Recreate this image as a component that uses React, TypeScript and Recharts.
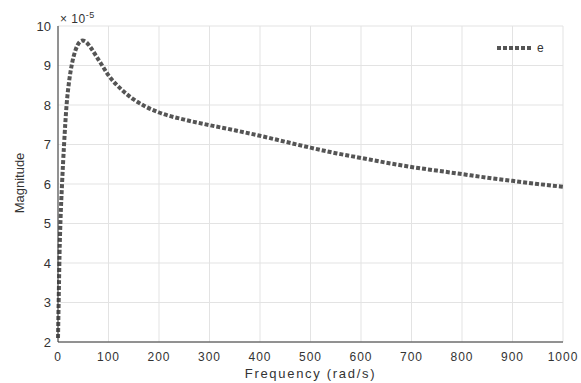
import React from "react";
import {
  LineChart, Line, XAxis, YAxis, CartesianGrid,
} from "recharts";

// magnitude values are in units of 1e-5
const freq = [
  0, 1, 2, 3, 5, 8, 12, 17, 22, 27, 35, 42, 48, 55, 65, 75, 85, 100, 125, 150, 175,
  200, 250, 300, 350, 400, 450, 500, 550, 600, 650, 700, 750, 800, 850, 900, 950, 1000,
];
const magnitude = [
  2.1, 2.8, 3.5, 4.2, 5.1, 6.0, 7.0, 8.0, 8.6, 9.0, 9.4, 9.58, 9.63, 9.6, 9.45, 9.25, 9.05, 8.75, 8.4, 8.14, 7.95,
  7.81, 7.63, 7.49, 7.36, 7.22, 7.07, 6.92, 6.78, 6.66, 6.54, 6.43, 6.34, 6.25, 6.16, 6.08, 6.0, 5.93,
];
const xTicks = [0, 100, 200, 300, 400, 500, 600, 700, 800, 900, 1000];
const yTicks = [2, 3, 4, 5, 6, 7, 8, 9, 10];

const data = freq.map((f, i) => ({ f, e: magnitude[i] }));

const FONT = "'Liberation Sans', Arial, sans-serif";
const TEXT = "#333";
const LINE = "#555";

if (typeof document !== "undefined") document.body.style.margin = "0";

export default function App() {
  return (
    <div style={{ position: "relative", width: 581, height: 383, background: "#fff", overflow: "hidden" }}>
      <LineChart width={581} height={383} data={data} margin={{ top: 26, right: 18, bottom: 16, left: 18 }}>
        <CartesianGrid stroke="#e3e3e3" />
        <XAxis
          dataKey="f"
          type="number"
          domain={[0, 1000]}
          ticks={xTicks}
          height={25}
          tickLine={false}
          axisLine={{ stroke: TEXT }}
          tick={{ fill: TEXT, fontSize: 12, fontFamily: FONT, letterSpacing: 1 }}
          tickMargin={4}
        />
        <XAxis xAxisId="top" orientation="top" type="number" domain={[0, 1000]} height={0} tick={false} tickLine={false} axisLine={{ stroke: TEXT }} />
        <YAxis
          type="number"
          domain={[2, 10]}
          ticks={yTicks}
          width={40}
          tickLine={false}
          axisLine={{ stroke: TEXT }}
          tick={{ fill: TEXT, fontSize: 13, fontFamily: FONT }}
          tickMargin={1}
        />
        <YAxis yAxisId="right" orientation="right" type="number" domain={[2, 10]} width={0} tick={false} tickLine={false} axisLine={{ stroke: TEXT }} />
        <Line
          dataKey="e"
          type="monotone"
          stroke={LINE}
          strokeWidth={4}
          strokeDasharray="4 2"
          dot={false}
          isAnimationActive={false}
        />
      </LineChart>
      <div style={{ position: "absolute", left: 497, top: 41, display: "flex", alignItems: "center", fontFamily: FONT, fontSize: 12, color: TEXT }}>
        <svg width={36} height={6}>
          <line x1={0} y1={3} x2={36} y2={3} stroke={LINE} strokeWidth={4} strokeDasharray="4 2" />
        </svg>
        <span style={{ marginLeft: 4 }}>e</span>
      </div>
      <div style={{ position: "absolute", left: 60, top: 8, fontFamily: FONT, fontSize: 12, lineHeight: "14px", color: TEXT, letterSpacing: 0.5 }}>
        × 10<span style={{ fontSize: 9, verticalAlign: 5 }}>-5</span>
      </div>
      <div style={{ position: "absolute", left: 0, right: 0, top: 366, lineHeight: "16px", textAlign: "center", paddingLeft: 40, fontFamily: FONT, fontSize: 13, color: TEXT, letterSpacing: 1.7 }}>
        Frequency (rad/s)
      </div>
      <div style={{ position: "absolute", left: 19, top: 183, transform: "translate(-50%, -50%) rotate(-90deg)", fontFamily: FONT, fontSize: 13, color: TEXT, whiteSpace: "nowrap" }}>
        Magnitude
      </div>
    </div>
  );
}
